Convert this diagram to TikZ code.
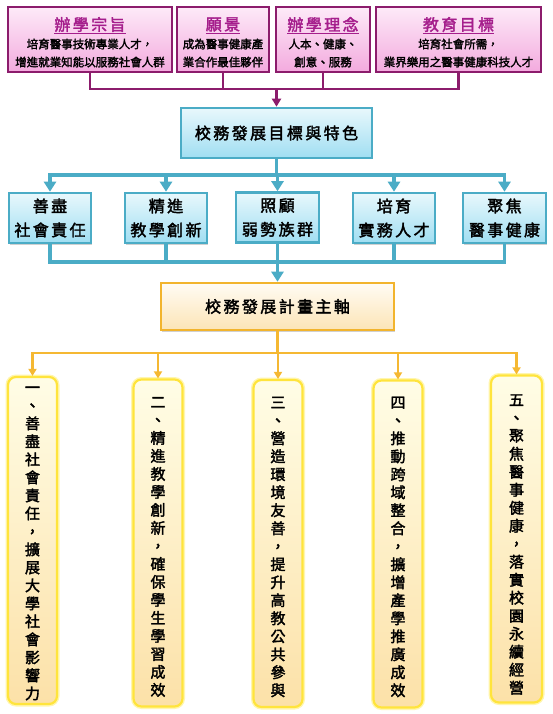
\documentclass[tikz,border=0pt]{standalone}
\usepackage{fontspec}
\setmainfont{Noto Sans CJK TC}[AutoFakeBold=2.2]
\usetikzlibrary{arrows.meta,shadows}
\definecolor{magB}{RGB}{140,28,108}
\definecolor{magT}{RGB}{165,30,140}
\definecolor{pinkTop}{RGB}{253,234,248}
\definecolor{pinkBot}{RGB}{243,170,222}
\definecolor{tealB}{RGB}{75,172,198}
\definecolor{cyanTop}{RGB}{232,248,252}
\definecolor{cyanBot}{RGB}{160,222,242}
\definecolor{orgB}{RGB}{242,180,45}
\definecolor{orgTop}{RGB}{255,252,244}
\definecolor{orgBot}{RGB}{252,228,182}
\definecolor{ylwB}{RGB}{255,228,60}
\definecolor{ylwGlow}{RGB}{255,246,175}
\definecolor{ylwTop}{RGB}{255,253,230}
\definecolor{ylwBot}{RGB}{252,225,168}
\definecolor{orgL}{RGB}{245,184,50}
\tikzset{
  shad/.style={drop shadow={shadow xshift=1.3pt,shadow yshift=-1.5pt,opacity=0.3,fill=black!60}},
  topbox/.style={draw=magB, line width=2.2pt, top color=pinkTop, bottom color=pinkBot,
     minimum height=65pt, inner sep=0pt, shad},
  ttl/.style={font=\fontsize{16}{18}\selectfont\bfseries\addfontfeature{LetterSpace=15}, text=magT, inner sep=0pt},
  bodytxt/.style={font=\fontsize{11.5}{18}\selectfont\bfseries, align=center, inner sep=0pt},
  tealbox/.style={draw=tealB, line width=2.6pt, top color=cyanTop, bottom color=cyanBot,
     inner sep=0pt, shad},
  bigtxt/.style={font=\fontsize{16}{24}\selectfont\bfseries\addfontfeature{LetterSpace=15}, align=center},
  orgbox/.style={draw=orgB, line width=2.6pt, top color=orgTop, bottom color=orgBot,
     inner sep=0pt, shad},
  ylwbox/.style={draw=ylwB, line width=2.2pt, rounded corners=8pt, top color=ylwTop, bottom color=ylwBot,
     inner sep=0pt, minimum width=49pt, minimum height=327pt, shad,
     preaction={draw=ylwGlow, line width=5pt}},
  vtxt/.style={font=\fontsize{15}{18}\selectfont\bfseries, align=center, inner sep=0pt},
  magline/.style={draw=magB, line width=2.4pt},
  magarr/.style={magline, -{Triangle[width=9pt,length=8pt]}},
  tealline/.style={draw=tealB, line width=3.6pt},
  tealarr/.style={tealline, -{Triangle[width=12pt,length=10pt]}},
  orgline/.style={draw=orgL, line width=2.4pt},
  orgarr/.style={orgline, -{Triangle[width=8pt,length=7pt]}},
}
\begin{document}
\begin{tikzpicture}[x=1pt,y=-1pt]
\fill[white] (0,0) rectangle (553,714);
\useasboundingbox (0,0) rectangle (553,714);

% top row
\node[topbox, minimum width=164pt] (tb1) at (90,39.5) {};
\node[topbox, minimum width=92pt]  (tb2) at (223,39.5) {};
\node[topbox, minimum width=94pt]  (tb3) at (323,39.5) {};
\node[topbox, minimum width=165pt] (tb4) at (458.5,39.5) {};

\node[ttl] (tt1) at (90,25.5) {\underline{辦學宗旨}};
\node[ttl] (tt2) at (223,25.5) {\underline{願景}};
\node[ttl] (tt3) at (323,25.5) {\underline{辦學理念}};
\node[ttl] (tt4) at (458.5,25.5) {\underline{教育目標}};

\node[bodytxt] (bd1) at (90,53) {培育醫事技術專業人才，\\增進就業知能以服務社會人群};
\node[bodytxt] (bd2) at (223,53) {成為醫事健康產\\業合作最佳夥伴};
\node[bodytxt] (bd3) at (323,53) {人本、健康、\\創意、服務};
\node[bodytxt] (bd4) at (458.5,53) {培育社會所需，\\業界樂用之醫事健康科技人才};

% middle teal box
\node[tealbox, minimum width=191pt, minimum height=50pt, bigtxt] (mid) at (276.5,133) {校務發展目標與特色};

\coordinate (mj) at (276.5,89);
\draw[magline] (tb1.south) -- (tb1.south |- mj) -- (tb4.south |- mj) -- (tb4.south);
\draw[magline] (tb2.south) -- (tb2.south |- mj);
\draw[magline] (tb3.south) -- (tb3.south |- mj);
\draw[magarr] (mj) -- (mid.north);

% five teal boxes
\node[tealbox, minimum width=82pt, minimum height=50pt, bigtxt] (ga) at (50,218) {善盡\\社會責任};
\node[tealbox, minimum width=82pt, minimum height=50pt, bigtxt] (gb) at (166,218) {精進\\教學創新};
\node[tealbox, minimum width=83pt, minimum height=50pt, bigtxt] (gc) at (277.5,217.5) {照顧\\弱勢族群};
\node[tealbox, minimum width=82pt, minimum height=50pt, bigtxt] (gd) at (394,218) {培育\\實務人才};
\node[tealbox, minimum width=83pt, minimum height=50pt, bigtxt] (ge) at (504.5,218) {聚焦\\醫事健康};

\coordinate (tj1) at (276.5,175);
\draw[tealline] (mid.south) -- (mid.south |- tj1);
\draw[tealline, line cap=rect] (ga.north |- tj1) -- (ge.north |- tj1);
\foreach \n in {ga,gb,gc,gd,ge} { \draw[tealarr] (\n.north |- tj1) -- (\n.north); }

% plan box
\node[orgbox, minimum width=233pt, minimum height=47pt, bigtxt] (plan) at (277.5,306.5) {校務發展計畫主軸};

\coordinate (tj2) at (276.5,262);
\foreach \n in {ga,gb,gc,gd,ge} { \draw[tealline] (\n.south) -- (\n.south |- tj2); }
\draw[tealline, line cap=rect] (ga.south |- tj2) -- (ge.south |- tj2);
\draw[tealarr] (plan.north |- tj2) -- (plan.north);

% bottom boxes
\node[ylwbox] (p1) at (32.5,540.5) {};
\node[ylwbox] (p2) at (158,543) {};
\node[ylwbox] (p3) at (278,543.5) {};
\node[ylwbox] (p4) at (398,544) {};
\node[ylwbox, minimum width=51pt] (p5) at (516.5,539) {};

\node[vtxt] (v1) at (32.5,543.5) {一\\、\\善\\盡\\社\\會\\責\\任\\，\\擴\\展\\大\\學\\社\\會\\影\\響\\力};
\node[vtxt] (v2) at (158,547) {二\\、\\精\\進\\教\\學\\創\\新\\，\\確\\保\\學\\生\\學\\習\\成\\效};
\node[vtxt] (v3) at (278,547) {三\\、\\營\\造\\環\\境\\友\\善\\，\\提\\升\\高\\教\\公\\共\\參\\與};
\node[vtxt] (v4) at (398,547) {四\\、\\推\\動\\跨\\域\\整\\合\\，\\擴\\增\\產\\學\\推\\廣\\成\\效};
\node[vtxt] (v5) at (516.5,544.5) {五\\、\\聚\\焦\\醫\\事\\健\\康\\，\\落\\實\\校\\園\\永\\續\\經\\營};

\coordinate (oj) at (277.5,353);
\draw[orgline] (plan.south) -- (plan.south |- oj);
\draw[orgline, line cap=rect] (p1.north |- oj) -- (p5.north |- oj);
\foreach \n in {p1,p2,p3,p4,p5} { \draw[orgarr] (\n.north |- oj) -- (\n.north); }
\end{tikzpicture}
\end{document}
